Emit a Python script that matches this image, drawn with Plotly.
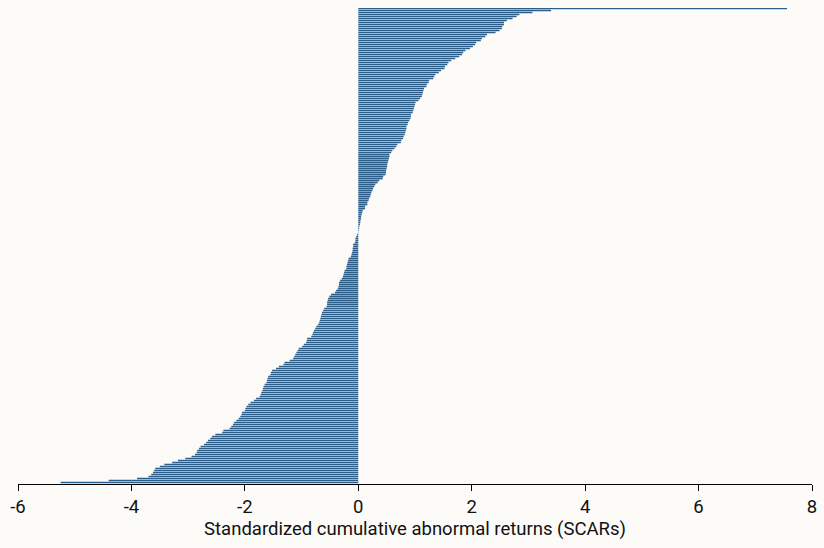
import plotly.graph_objects as go

# SCAR values, sorted from largest (top) to smallest (bottom)
scars = [
    7.56, 3.40, 3.07, 2.84, 2.79, 2.72, 2.62, 2.57, 2.57, 2.54,
    2.53, 2.49, 2.42, 2.27, 2.24, 2.18, 2.16, 2.08, 2.06, 2.02,
    1.97, 1.89, 1.85, 1.83, 1.78, 1.71, 1.64, 1.59, 1.57, 1.53,
    1.52, 1.46, 1.42, 1.36, 1.34, 1.32, 1.25, 1.24, 1.21, 1.20,
    1.16, 1.15, 1.14, 1.13, 1.12, 1.09, 1.06, 1.01, 1.00, 0.99,
    0.98, 0.97, 0.96, 0.93, 0.93, 0.92, 0.90, 0.88, 0.87, 0.85,
    0.85, 0.84, 0.83, 0.82, 0.80, 0.79, 0.76, 0.75, 0.69, 0.67,
    0.64, 0.60, 0.58, 0.55, 0.55, 0.54, 0.53, 0.52, 0.51, 0.51,
    0.50, 0.49, 0.49, 0.48, 0.44, 0.43, 0.37, 0.34, 0.30, 0.28,
    0.26, 0.25, 0.23, 0.22, 0.21, 0.19, 0.18, 0.16, 0.16, 0.12,
    0.12, 0.08, 0.07, 0.06, 0.05, 0.05, 0.04, 0.035, 0.03, 0.02,
    0.015, 0.01, 0.005, -0.02, -0.035, -0.05, -0.05, -0.06, -0.09, -0.09,
    -0.10, -0.10, -0.11, -0.12, -0.13, -0.17, -0.18, -0.19, -0.20, -0.21,
    -0.21, -0.24, -0.25, -0.26, -0.27, -0.29, -0.32, -0.34, -0.34, -0.35,
    -0.36, -0.39, -0.41, -0.48, -0.51, -0.53, -0.54, -0.55, -0.55, -0.56,
    -0.60, -0.62, -0.64, -0.65, -0.66, -0.67, -0.68, -0.69, -0.71, -0.74,
    -0.76, -0.78, -0.80, -0.81, -0.83, -0.90, -0.91, -0.92, -0.96, -0.99,
    -1.05, -1.07, -1.09, -1.11, -1.13, -1.15, -1.21, -1.30, -1.32, -1.40,
    -1.45, -1.52, -1.54, -1.55, -1.59, -1.60, -1.61, -1.62, -1.65, -1.67,
    -1.68, -1.69, -1.71, -1.72, -1.74, -1.80, -1.84, -1.90, -1.94, -1.97,
    -1.99, -2.00, -2.05, -2.06, -2.08, -2.11, -2.15, -2.19, -2.21, -2.24,
    -2.27, -2.38, -2.40, -2.52, -2.58, -2.61, -2.65, -2.68, -2.72, -2.78,
    -2.81, -2.84, -2.85, -2.88, -2.94, -3.05, -3.18, -3.28, -3.42, -3.50,
    -3.58, -3.60, -3.62, -3.65, -3.70, -3.90, -4.40, -5.25,
]
ranks = list(range(len(scars)))

x_ticks = [-6, -4, -2, 0, 2, 4, 6, 8]
x_tick_labels = ["-6", "-4", "-2", "0", "2", "4", "6", "8"]
x_title = "Standardized cumulative abnormal returns (SCARs)"

BG = "#fcfbf8"
BAR = "#2d5e8a"
FONT = "Roboto, sans-serif"

fig = go.Figure(
    go.Bar(
        x=scars,
        y=ranks,
        orientation="h",
        marker=dict(color=BAR, line=dict(width=0)),
        hoverinfo="x",
    )
)

fig.update_layout(
    width=824,
    height=548,
    paper_bgcolor=BG,
    plot_bgcolor=BG,
    margin=dict(l=18, r=12, t=8, b=64, autoexpand=False),
    bargap=0.15,
    showlegend=False,
    font=dict(family=FONT, size=18.5, color="#111111"),
)

fig.update_xaxes(
    range=[-6, 8],
    tickvals=x_ticks,
    ticktext=x_tick_labels,
    showgrid=False,
    zeroline=False,
    showline=True,
    linecolor="#000000",
    linewidth=1,
    ticks="outside",
    ticklen=6,
    tickwidth=1,
    tickcolor="#000000",
    ticklabelstandoff=0,
    automargin=False,
    tickfont=dict(family=FONT, size=18.5, color="#111111"),
    title=dict(text=x_title, font=dict(family=FONT, size=18.5, color="#111111"), standoff=2),
)

n = len(scars)
fig.update_yaxes(
    range=[n - 0.25, -0.25],
    visible=False,
    showgrid=False,
    zeroline=False,
    automargin=False,
)

fig.write_html(
    "out.html",
    config={"staticPlot": True},
    post_script=(
        "document.body.style.margin='0';"
        "document.body.style.padding='0';"
        f"document.body.style.background='{BG}';"
    ),
)
